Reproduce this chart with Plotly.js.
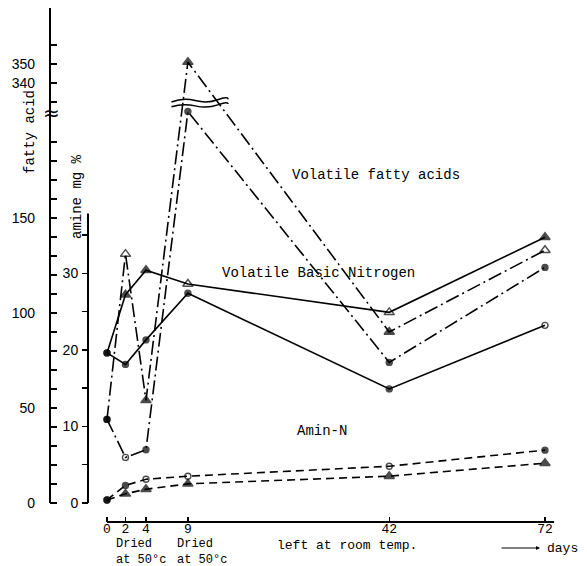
<!DOCTYPE html>
<html><head><meta charset="utf-8">
<script src="https://cdn.plot.ly/plotly-3.0.1.min.js"></script>
<style>body{margin:0;background:#fff}#chart{width:587px;height:566px}</style>
</head><body><div id="chart"></div>
<script>
// ---------------- data ----------------
const days = [0, 2, 4, 9, 42, 72];
const dayTickLabels = ['0', '2', '4', '9', '42', '72'];

// Volatile fatty acids (left "fatty acid" axis)
const vfaCircle   = [44, 24, 28, 325, 74, 124];
const vfaTriangle = [44, 131, 54, 351, 90, 133];

// Volatile Basic Nitrogen (inner "amine mg %" axis)
const vbnCircle   = [19.6, 18.1, 21.3, 27.4, 14.9, 23.2];
const vbnTriangle = [19.6, 27.2, 30.4, 28.6, 24.9, 34.7];

// Amin-N (inner "amine mg %" axis)
const aminCircle   = [0.4, 2.3, 3.1, 3.5, 4.8, 6.9];
const aminTriangle = [0.4, 1.2, 1.8, 2.5, 3.5, 5.2];

// axis ticks
const fattyTicksLow  = [0,10,20,30,40,50,60,70,80,90,100,110,120,130,140,150,160,170,180,190];
const fattyTicksHigh = [330, 340, 350, 360];
const fattyLabelled  = [0, 50, 100, 150, 340, 350];
const amineTicks  = [0, 5, 10, 15, 20, 25, 30, 35];
const amineLabels = ['0', '', '10', '', '20', '', '30', ''];

// ---------------- scales ----------------
// The printed day axis is hand-spaced: axis units at which each day tick was drawn
const dayAxisSpots = [0, 3.04, 6.41, 13.3, 46.4, 72];
function dayScale(d) {
  for (let i = 1; i < days.length; i++) {
    if (d <= days[i]) {
      const t = (d - days[i-1]) / (days[i] - days[i-1]);
      return dayAxisSpots[i-1] + t * (dayAxisSpots[i] - dayAxisSpots[i-1]);
    }
  }
  return dayAxisSpots[dayAxisSpots.length - 1];
}
// Broken fatty-acid axis: values above the break are shifted down
const BREAK_SHIFT = 119;
function fattyScale(v) { return v > 300 ? v - BREAK_SHIFT : v; }
const AMINE_RATIO = 4.03;   // fatty-acid units per amine unit
const Y1_RANGE = [-10, 260.5];

// ---------------- geometry helpers for text ----------------
const L = 50, R = 560, T = 8, B = 522;
const W = R - L, H = B - T;
const px = x => (x - L) / W;
const py = y => (B - y) / H;

// ---------------- traces ----------------
function series(vals, axis, dash, symbols) {
  const isFatty = axis === 'y';
  return {
    type: 'scatter', mode: 'lines+markers',
    x: days.map(dayScale),
    y: isFatty ? vals.map(fattyScale) : vals,
    yaxis: axis,
    line: {color: '#000', width: 1.6, dash: dash},
    marker: {
      color: '#000',
      symbol: symbols,
      size: symbols.map(s => s.indexOf('triangle') === 0 ? 9 : 6),
      line: {color: '#000', width: 1.4}
    },
    hoverinfo: 'skip', showlegend: false
  };
}
const DASHDOT = '14px,4px,2px,4px';
const DASH = '8px,5px';
const traces = [
  series(vfaCircle, 'y', DASHDOT, ['circle','circle-open','circle','circle','circle','circle']),
  series(vfaTriangle, 'y', DASHDOT, ['circle','triangle-up-open','triangle-up','triangle-up','triangle-up','triangle-up-open']),
  series(vbnCircle, 'y2', 'solid', ['circle','circle','circle','circle','circle','circle-open']),
  series(vbnTriangle, 'y2', 'solid', ['circle','triangle-up','triangle-up','triangle-up-open','triangle-up-open','triangle-up']),
  series(aminCircle, 'y2', DASH, ['circle','circle','circle-open','circle-open','circle-open','circle']),
  series(aminTriangle, 'y2', DASH, ['circle','triangle-up','triangle-up','triangle-up','triangle-up','triangle-up'])
];

// ---------------- axes ----------------
const fattyTickVals = fattyTicksLow.concat(fattyTicksHigh);
const fattyTickText = fattyTickVals.map(v => fattyLabelled.indexOf(v) >= 0 ? String(v) : '');

const MONO = 'Liberation Mono, DejaVu Sans Mono, monospace';
const monoFont = {family: MONO, size: 14, color: '#000'};
const monoSmall = {family: MONO, size: 13, color: '#000'};
const monoTiny = {family: MONO, size: 12, color: '#000'};
const sansFont = {family: 'Liberation Sans, Arial, sans-serif', size: 14, color: '#000'};

const layout = {
  width: 587, height: 566,
  margin: {l: L, r: 587 - R, t: T, b: 566 - B, pad: 0},
  paper_bgcolor: '#fff', plot_bgcolor: '#fff',
  showlegend: false,
  xaxis: {
    range: [-9.37, 74.47],
    tickmode: 'array', tickvals: days.map(dayScale), ticktext: dayTickLabels,
    ticks: 'inside', ticklen: 5, tickwidth: 1.5, tickcolor: '#000',
    showline: false, showgrid: false, zeroline: false,
    tickfont: monoSmall, ticklabelstandoff: -3
  },
  yaxis: {
    range: Y1_RANGE,
    tickmode: 'array', tickvals: fattyTickVals.map(fattyScale), ticktext: fattyTickText,
    ticks: 'inside', ticklen: 7, tickwidth: 1.5, tickcolor: '#000',
    showline: false, showgrid: false, zeroline: false,
    tickfont: sansFont, ticklabelstandoff: 14
  },
  yaxis2: {
    overlaying: 'y', anchor: 'free', position: px(88), side: 'left',
    range: Y1_RANGE.map(v => v / AMINE_RATIO),
    tickmode: 'array', tickvals: amineTicks, ticktext: amineLabels,
    ticks: 'outside', ticklen: 6, tickwidth: 1.5, tickcolor: '#000',
    showline: false, showgrid: false, zeroline: false,
    tickfont: sansFont, ticklabelstandoff: 1
  },
  shapes: [
    // fatty-acid axis line
    {type: 'line', xref: 'paper', yref: 'y', x0: 0, x1: 0, y0: 0, y1: Y1_RANGE[1], line: {color: '#000', width: 2}},
    // amine axis line
    {type: 'line', xref: 'paper', yref: 'y2', x0: px(88), x1: px(88), y0: 0, y1: 37.8, line: {color: '#000', width: 2}},
    // day axis line
    {type: 'line', xref: 'x', yref: 'paper', x0: dayScale(0), x1: 73.5, y0: 0, y1: 0, line: {color: '#000', width: 2}},
    // break squiggles near day 9
    {type: 'path', xref: 'x', yref: 'y', path: 'M 10.6,211 Q 12.5,213.5 14.5,211.8 T 18.2,212.2 T 19.9,212.5', line: {color: '#000', width: 1.5}},
    {type: 'path', xref: 'x', yref: 'y', path: 'M 10.6,208.5 Q 12.5,210.5 14.5,209 T 18.2,209.5 T 19.9,210', line: {color: '#000', width: 1.5}}
  ],
  annotations: [
    {text: 'Volatile fatty acids', x: px(290), y: py(175), xref: 'paper', yref: 'paper', xanchor: 'left', yanchor: 'middle', showarrow: false, font: monoFont},
    {text: 'Volatile Basic Nitrogen', x: px(220), y: py(273), xref: 'paper', yref: 'paper', xanchor: 'left', yanchor: 'middle', showarrow: false, font: monoFont},
    {text: 'Amin-N', x: px(295), y: py(431), xref: 'paper', yref: 'paper', xanchor: 'left', yanchor: 'middle', showarrow: false, font: monoFont},
    {text: 'fatty acid', x: px(30), y: py(132), xref: 'paper', yref: 'paper', textangle: -90, xanchor: 'center', yanchor: 'middle', showarrow: false, font: monoFont},
    {text: 'amine mg %', x: px(77), y: py(197), xref: 'paper', yref: 'paper', textangle: -90, xanchor: 'center', yanchor: 'middle', showarrow: false, font: monoFont},
    {text: 'Dried<br>at 50°c', x: px(114), y: py(552), xref: 'paper', yref: 'paper', xanchor: 'left', yanchor: 'middle', align: 'left', showarrow: false, font: monoTiny},
    {text: 'Dried<br>at 50°c', x: px(175), y: py(552), xref: 'paper', yref: 'paper', xanchor: 'left', yanchor: 'middle', align: 'left', showarrow: false, font: monoTiny},
    {text: 'left at room temp.', x: px(347), y: py(545), xref: 'paper', yref: 'paper', xanchor: 'center', yanchor: 'middle', showarrow: false, font: monoSmall},
    {text: 'days', x: px(545), y: py(548), xref: 'paper', yref: 'paper', xanchor: 'left', yanchor: 'middle', showarrow: false, font: monoSmall},
    {text: '', x: px(540), y: py(548), xref: 'paper', yref: 'paper', showarrow: true, ax: -40, ay: 0, arrowhead: 2, arrowsize: 0.8, arrowwidth: 1, arrowcolor: '#000'},
    {text: '≈', x: px(51), y: py(113), xref: 'paper', yref: 'paper', xanchor: 'center', yanchor: 'middle', showarrow: false, font: {family: 'DejaVu Sans', size: 20, color: '#000'}}
  ]
};

Plotly.newPlot('chart', traces, layout, {staticPlot: true, displayModeBar: false});
</script>
</body></html>
